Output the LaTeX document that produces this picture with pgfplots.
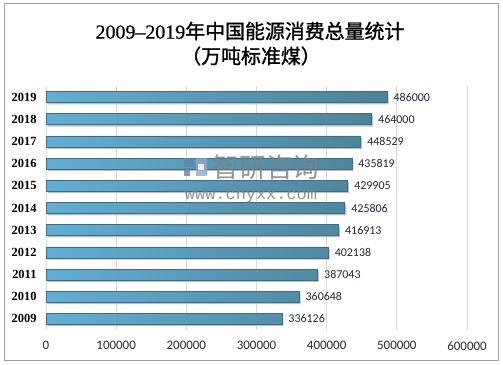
\documentclass[border=0pt]{standalone}
\usepackage{fontspec}
\setmainfont{Liberation Serif}
\newfontfamily\cjk{Noto Sans CJK SC}
\newfontfamily\cjkb[FakeBold=1.2]{Noto Sans CJK SC}
\newfontfamily\serb[FakeBold=0.6]{Liberation Serif}
\newfontfamily\calib{Carlito}
\newfontfamily\lmono{Liberation Mono}
\usepackage{pgfplots}
\usepackage{pgfplotstable}
\pgfplotsset{compat=1.18}
\definecolor{barL}{HTML}{62AED4}
\definecolor{barR}{HTML}{4C8196}
\definecolor{barE}{HTML}{3F6C80}
\definecolor{txt}{HTML}{2E2A26}
\definecolor{vtxt}{HTML}{1F2A3A}
\definecolor{wm}{HTML}{7E8286}
\definecolor{logo}{HTML}{5E84AE}
\pgfplotstableread{
y val
0 336126
1 360648
2 387043
3 402138
4 416913
5 425806
6 429905
7 435819
8 448529
9 464000
10 486000
}\datatab
\begin{document}
\begin{tikzpicture}[x=1bp,y=1bp]
\path[use as bounding box] (0,0) rectangle (503,364);
\draw[color=gray!75, line width=1bp] (4,4) rectangle (498,360);
\node[font=\fontsize{20}{24}\selectfont, inner sep=0] at (250,333) {{\serb 2009–2019}{\cjkb 年中国能源消费总量统计}};
\node[font=\fontsize{20}{24}\selectfont, inner sep=0] at (251,308) {\cjkb（万吨标准煤）};
\begin{axis}[
  at={(46bp,34bp)}, anchor=south west,
  width=421bp, height=244bp, scale only axis,
  xmin=0, xmax=600000, ymin=-0.5, ymax=10.5,
  xtick={0,100000,...,600000},
  scaled x ticks=false,
  ytick={0,...,10},
  yticklabels={2009,2010,2011,2012,2013,2014,2015,2016,2017,2018,2019},
  /pgf/number format/.cd, fixed, 1000 sep={}, assume math mode=true,
  /pgfplots/.cd,
  axis line style={draw=none},
  major tick length=0pt,
  xmajorgrids,
  grid style={color=black!15, line width=0.8bp},
  xticklabel style={font=\calib\fontsize{13}{13}\selectfont, text=txt, yshift=-8bp},
  yticklabel style={font=\bfseries\fontsize{12.5}{12.5}\selectfont, text=black, xshift=-6bp},
  clip=false,
]
\addplot[xbar, bar width=11bp, bar shift=0pt, fill=black!25, draw=none,
  transform canvas={xshift=1.5bp, yshift=-1.8bp}] table[x=val, y=y] {\datatab};
\addplot[xbar, bar width=11bp, bar shift=0pt, left color=barL, right color=barR, draw=barE, line width=0.6bp,
  nodes near coords,
  nodes near coords style={font=\calib\fontsize{12}{12}\selectfont, text=vtxt, anchor=west, xshift=3bp}]
  table[x=val, y=y] {\datatab};
\end{axis}
\node[font=\cjk\fontsize{27}{27}\selectfont, text=wm, opacity=0.85] at (266,197) {智研咨询};
\node[font=\lmono\fontsize{17}{17}\selectfont, text=wm, opacity=0.85] at (251,169) {www.chyxx.com};
\fill[logo, opacity=0.8] (184,197) rectangle (194,206);
\fill[logo, opacity=0.8] (184,188) rectangle (190,196);
\fill[logo!70, opacity=0.8] (196,188) rectangle (207,206);
\fill[white, opacity=0.8] (198,194) rectangle (204,200);
\end{tikzpicture}
\end{document}
